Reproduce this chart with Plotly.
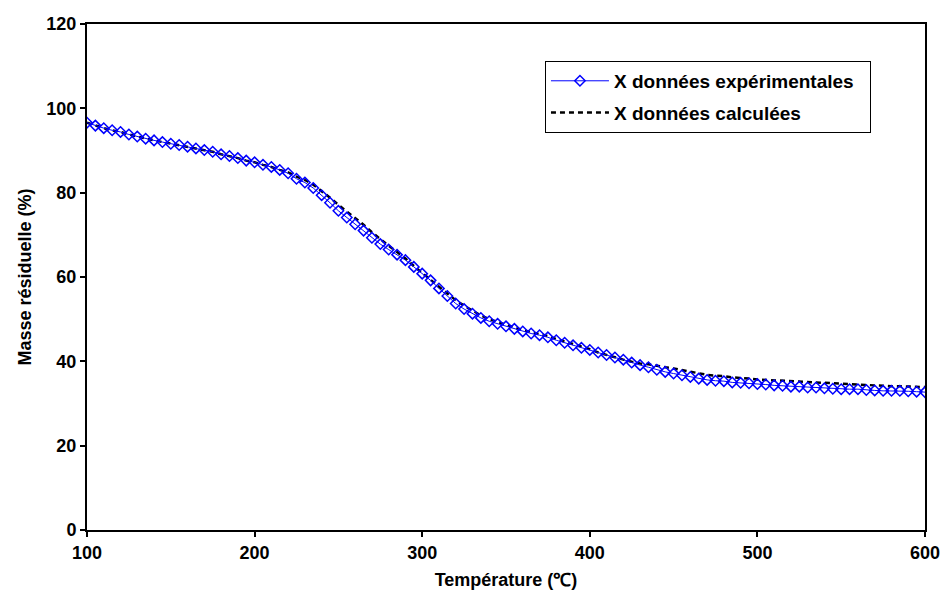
import plotly.graph_objects as go

temperature = list(range(100, 605, 5))

masse_exp = [
    96.6, 95.9, 95.3, 94.8, 94.4, 93.8, 93.3, 92.8, 92.4, 92.0,
    91.6, 91.3, 90.9, 90.5, 90.1, 89.7, 89.1, 88.7, 88.2, 87.6,
    87.2, 86.6, 86.1, 85.4, 84.6, 83.3, 82.4, 81.1, 79.4, 77.6,
    75.7, 74.1, 72.5, 71.0, 69.3, 67.8, 66.5, 65.3, 64.0, 62.4,
    60.8, 59.2, 57.3, 55.5, 53.7, 52.4, 51.3, 50.3, 49.5, 48.9,
    48.3, 47.7, 47.1, 46.6, 46.2, 45.7, 45.0, 44.4, 43.8, 43.2,
    42.7, 42.1, 41.5, 40.9, 40.4, 39.7, 39.1, 38.6, 38.0, 37.5,
    37.1, 36.7, 36.3, 35.9, 35.6, 35.4, 35.3, 35.0, 34.9, 34.8,
    34.6, 34.5, 34.3, 34.2, 34.0, 34.0, 33.8, 33.8, 33.6, 33.5,
    33.4, 33.4, 33.4, 33.2, 33.1, 33.0, 33.0, 33.0, 32.9, 32.8,
    32.7,
]

masse_calc = [
    96.6, 95.9, 95.3, 94.8, 94.4, 93.8, 93.3, 92.8, 92.4, 92.0,
    91.6, 91.3, 90.9, 90.5, 90.1, 89.7, 89.1, 88.7, 88.2, 87.6,
    87.2, 86.6, 86.1, 85.4, 84.8, 83.8, 83.0, 81.9, 80.4, 78.8,
    77.1, 75.6, 74.0, 72.4, 70.6, 68.9, 67.4, 65.9, 64.4, 62.6,
    60.9, 59.4, 57.7, 56.1, 54.5, 53.2, 52.0, 50.9, 50.0, 49.3,
    48.7, 48.0, 47.4, 46.9, 46.5, 46.0, 45.3, 44.7, 44.1, 43.5,
    42.9, 42.1, 41.5, 40.9, 40.4, 39.9, 39.5, 39.3, 38.9, 38.6,
    38.3, 37.9, 37.5, 37.1, 36.8, 36.6, 36.5, 36.2, 36.1, 35.9,
    35.7, 35.6, 35.5, 35.4, 35.2, 35.1, 35.0, 34.9, 34.8, 34.7,
    34.6, 34.5, 34.5, 34.4, 34.3, 34.2, 34.1, 34.1, 34.0, 34.0,
    33.9,
]

x_ticks = [100, 200, 300, 400, 500, 600]
y_ticks = [0, 20, 40, 60, 80, 100, 120]

FONT = "Liberation Sans, Arial, sans-serif"

fig = go.Figure()
fig.add_trace(go.Scatter(
    x=temperature, y=masse_calc, mode="lines",
    name="X données calculées\u00a0\u00a0",
    line=dict(color="black", width=2.5, dash="5px,4px"),
    legendgroup="b", legendrank=2,
))
fig.add_trace(go.Scatter(
    x=temperature, y=masse_exp, mode="lines+markers",
    name="X données expérimentales\u00a0\u00a0",
    line=dict(color="#0000FF", width=1),
    marker=dict(symbol="diamond-open", size=8, color="#0000FF",
                line=dict(color="#0000FF", width=1.5)),
    legendgroup="a", legendrank=1,
))

axis_common = dict(
    showline=True, linecolor="black", linewidth=2, mirror=True,
    ticks="outside", ticklen=5, tickwidth=2, tickcolor="black",
    showgrid=False, zeroline=False,
    tickfont=dict(family=FONT, size=18, color="black", weight="bold"),
)

fig.update_xaxes(
    range=[100, 600], tickvals=x_ticks, ticktext=[str(v) for v in x_ticks],
    title=dict(text="Température (℃)", standoff=12,
               font=dict(family=FONT, size=18, color="black", weight="bold")),
    **axis_common,
)
fig.update_yaxes(
    range=[0, 120], tickvals=y_ticks, ticktext=[str(v) for v in y_ticks],
    title=dict(text="Masse résiduelle (%)", standoff=10,
               font=dict(family=FONT, size=18, color="black", weight="bold")),
    **axis_common,
)

fig.update_layout(
    width=942, height=597,
    margin=dict(l=87, r=17, t=24, b=67, autoexpand=False),
    paper_bgcolor="white", plot_bgcolor="white",
    font=dict(family=FONT, color="black"),
    legend=dict(
        x=0.5465, y=0.927, xanchor="left", yanchor="top",
        bgcolor="white", bordercolor="black", borderwidth=1,
        font=dict(family=FONT, size=19, color="black", weight="bold"),
        traceorder="grouped", tracegroupgap=4,
        itemwidth=58,
    ),
)

fig.write_html(
    "out.html",
    config={"displayModeBar": False},
    post_script="document.body.style.margin='0';document.body.style.overflow='hidden';",
)
